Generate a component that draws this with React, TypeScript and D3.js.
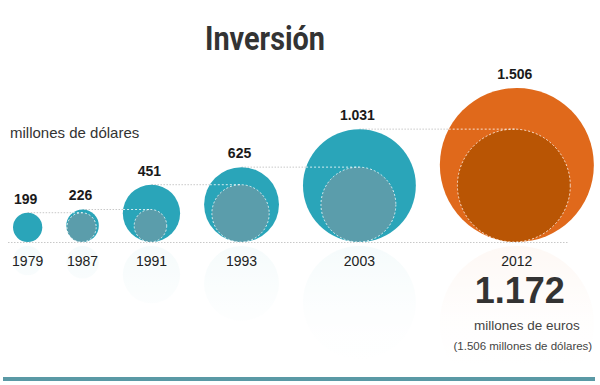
import { useEffect, useRef } from "react";
import * as d3 from "d3";

const years = ["1979", "1987", "1991", "1993", "2003", "2012"];
const values = [199, 226, 451, 625, 1031, 1506];
const highlight = [false, false, false, false, false, true];
const eurosValue = 1172;

const W = 600;
const H = 385;
const SANS = "'Liberation Sans', Arial, Helvetica, sans-serif";

const esFormat = d3.formatLocale({
  decimal: ",",
  thousands: ".",
  grouping: [3],
  currency: ["", " €"],
}).format(",d");

export default function App() {
  const ref = useRef<SVGSVGElement | null>(null);

  useEffect(() => {
    const svg = d3.select(ref.current!);
    svg.selectAll("*").remove();

    const base = 242;
    const gap = 24;
    const r = d3.scalePow().exponent(0.82).domain([0, d3.max(values)!]).range([0, 77]);

    // lay circles side by side, left to right, all sitting on the baseline
    let left = 13;
    const nodes = values.map((v, i) => {
      const rr = r(v);
      const cx = left + rr;
      left = cx + rr + gap;
      return { v, year: years[i], r: rr, cx, cy: base - rr, hot: highlight[i] };
    });

    const defs = svg.append("defs");
    const grad = defs
      .append("linearGradient")
      .attr("id", "fade")
      .attr("x1", 0)
      .attr("y1", 0)
      .attr("x2", 0)
      .attr("y2", 1);
    grad.append("stop").attr("offset", "0%").attr("stop-color", "#fff").attr("stop-opacity", 0.45);
    grad.append("stop").attr("offset", "45%").attr("stop-color", "#fff").attr("stop-opacity", 0.9);
    grad.append("stop").attr("offset", "75%").attr("stop-color", "#fff").attr("stop-opacity", 1);

    // faint reflections
    const refl = svg.append("g");
    refl
      .selectAll("circle")
      .data(nodes)
      .join("circle")
      .attr("cx", (d) => d.cx)
      .attr("cy", (d) => base + d.r + 4)
      .attr("r", (d) => d.r)
      .attr("fill", (d) => (d.hot ? "#e0691b" : "#2aa4b8"))
      .attr("opacity", 0.08);
    refl
      .append("rect")
      .attr("x", 0)
      .attr("y", base + 4)
      .attr("width", W)
      .attr("height", 160)
      .attr("fill", "url(#fade)");

    // baseline
    svg
      .append("line")
      .attr("x1", 8)
      .attr("x2", 568)
      .attr("y1", base + 0.5)
      .attr("y2", base + 0.5)
      .attr("stroke", "#c8c8c8")
      .attr("stroke-width", 1)
      .attr("stroke-dasharray", "1.5,1.5");

    // guide lines from the previous circle's top into the next one
    const guides = nodes.slice(1).map((d, k) => {
      const prev = nodes[k];
      const y = base - 2 * prev.r;
      const dy = y - d.cy;
      const half = Math.sqrt(Math.max(0, d.r * d.r - dy * dy));
      return { y, x0: prev.cx, xe: d.cx - half, x1: d.cx };
    });

    svg
      .append("g")
      .selectAll("line")
      .data(guides)
      .join("line")
      .attr("x1", (d) => d.x0)
      .attr("x2", (d) => d.xe)
      .attr("y1", (d) => d.y)
      .attr("y2", (d) => d.y)
      .attr("stroke", "#c8c8c8")
      .attr("stroke-width", 1)
      .attr("stroke-dasharray", "1.5,1.5");

    const g = svg.append("g");
    g.selectAll("circle.outer")
      .data(nodes)
      .join("circle")
      .attr("class", "outer")
      .attr("cx", (d) => d.cx)
      .attr("cy", (d) => d.cy)
      .attr("r", (d) => d.r)
      .attr("fill", (d) => (d.hot ? "#e0691b" : "#2aa5b9"));

    // inner circle = previous year's size, bottom aligned
    const inner = nodes.slice(1).map((d, k) => ({ ...d, ir: nodes[k].r }));
    g.selectAll("circle.inner")
      .data(inner)
      .join("circle")
      .attr("class", "inner")
      .attr("cx", (d) => d.cx - (d.hot ? 3 : 1))
      .attr("cy", (d) => base - d.ir)
      .attr("r", (d) => d.ir)
      .attr("fill", (d) => (d.hot ? "#b95504" : "#5b9dab"))
      .attr("stroke", "rgba(255,255,255,0.8)")
      .attr("stroke-width", 1)
      .attr("stroke-dasharray", "2,2");

    g.selectAll("line.inside")
      .data(guides)
      .join("line")
      .attr("class", "inside")
      .attr("x1", (d) => d.xe)
      .attr("x2", (d) => d.x1)
      .attr("y1", (d) => d.y)
      .attr("y2", (d) => d.y)
      .attr("stroke", "rgba(255,255,255,0.8)")
      .attr("stroke-width", 1)
      .attr("stroke-dasharray", "2,2");

    // value labels
    svg
      .append("g")
      .selectAll("text")
      .data(nodes)
      .join("text")
      .attr("x", (d) => d.cx - 2)
      .attr("y", (d) => base - 2 * d.r - 9)
      .attr("text-anchor", "middle")
      .style("font", `bold 14px ${SANS}`)
      .style("fill", "#1a1a1a")
      .text((d) => esFormat(d.v));

    // year labels
    svg
      .append("g")
      .selectAll("text")
      .data(nodes)
      .join("text")
      .attr("x", (d) => d.cx)
      .attr("y", base + 24)
      .attr("text-anchor", "middle")
      .style("font", `14px ${SANS}`)
      .style("fill", "#222")
      .text((d) => d.year);

    const last = nodes[nodes.length - 1];

    svg
      .append("text")
      .attr("x", 205)
      .attr("y", 50)
      .attr("textLength", 120)
      .attr("lengthAdjust", "spacingAndGlyphs")
      .style("font", "bold 34px Roboto, 'Liberation Sans', sans-serif")
      .style("fill", "#333")
      .text("Inversión");

    svg
      .append("text")
      .attr("x", 10)
      .attr("y", 138)
      .style("font", `15px ${SANS}`)
      .style("fill", "#333")
      .text("millones de dólares");

    svg
      .append("text")
      .attr("x", last.cx + 3)
      .attr("y", 303)
      .attr("text-anchor", "middle")
      .style("font", `bold 36px ${SANS}`)
      .style("fill", "#333")
      .text(esFormat(eurosValue));

    svg
      .append("text")
      .attr("x", last.cx + 10)
      .attr("y", 330)
      .attr("text-anchor", "middle")
      .style("font", `13.5px ${SANS}`)
      .style("fill", "#444")
      .text("millones de euros");

    svg
      .append("text")
      .attr("x", last.cx + 6)
      .attr("y", 350)
      .attr("text-anchor", "middle")
      .style("font", `11.5px ${SANS}`)
      .style("fill", "#444")
      .text(`(${esFormat(last.v)} millones de dólares)`);

    svg
      .append("rect")
      .attr("x", 3)
      .attr("y", 377)
      .attr("width", 592)
      .attr("height", 4)
      .attr("fill", "#5a99a5");
  }, []);

  return (
    <svg
      ref={ref}
      width={W}
      height={H}
      style={{ position: "absolute", left: 0, top: 0, background: "#fff" }}
    />
  );
}
